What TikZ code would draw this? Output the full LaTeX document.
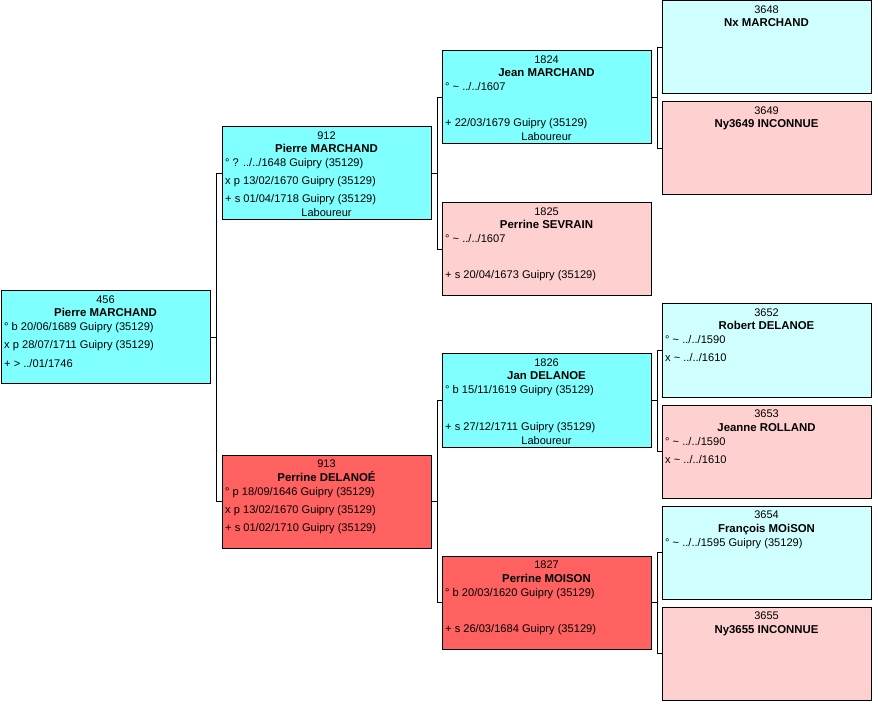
\documentclass[tikz,border=0pt]{standalone}
\usepackage{fontspec}
\setmainfont{Liberation Sans}
\usetikzlibrary{calc}
\definecolor{cyanM}{HTML}{80FFFF}
\definecolor{cyanL}{HTML}{D0FFFF}
\definecolor{pinkL}{HTML}{FFD0D0}
\definecolor{redF}{HTML}{FF6060}
\tikzset{
 pbox/.style={draw=black, line width=1pt, minimum width=209pt, minimum height=93pt, anchor=north west, inner sep=0pt, outer sep=0pt},
 numtxt/.style={font=\fontsize{11}{12}\selectfont, anchor=base, inner sep=0pt},
 nametxt/.style={font=\fontsize{11.4}{13}\selectfont\bfseries, anchor=base, inner sep=0pt},
 evtxt/.style={font=\fontsize{11.1}{12}\selectfont, anchor=base west, inner sep=0pt},
 link/.style={draw=black, line width=1pt},
}
\newcommand\pbx[6]{%
 \node[pbox,fill=#4] (#1) at (#2,#3) {};
 \node[numtxt] at ($(#1.north)+(0,12.5)$) {#5};
 \node[nametxt] at ($(#1.north)+(0,26)$) {#6};}
\newcommand\evA[2]{\node[evtxt] at ($(#1.north west)+(3,40)$) {#2};}
\newcommand\evB[2]{\node[evtxt] at ($(#1.north west)+(3,58)$) {#2};}
\newcommand\evC[2]{\node[evtxt] at ($(#1.north west)+(3,76)$) {#2};}
\newcommand\job[2]{\node[numtxt] at ($(#1.north)+(0,90)$) {#2};}
\newcommand\tld{\textasciitilde}
\begin{document}
\begin{tikzpicture}[x=1pt,y=-1pt]
\useasboundingbox[fill=white] (0,0) rectangle (878,708);
% generation 1
\pbx{n456}{1}{291}{cyanM}{456}{Pierre MARCHAND}
\evA{n456}{° b 20/06/1689 Guipry (35129)}
\evB{n456}{x p 28/07/1711 Guipry (35129)}
\evC{n456}{+ > ../01/1746}
% generation 2
\pbx{n912}{222}{127}{cyanM}{912}{Pierre MARCHAND}
\evA{n912}{° ? ../../1648 Guipry (35129)}
\evB{n912}{x p 13/02/1670 Guipry (35129)}
\evC{n912}{+ s 01/04/1718 Guipry (35129)}
\job{n912}{Laboureur}
\pbx{n913}{222}{455}{redF}{913}{Perrine DELANOÉ}
\evA{n913}{° p 18/09/1646 Guipry (35129)}
\evB{n913}{x p 13/02/1670 Guipry (35129)}
\evC{n913}{+ s 01/02/1710 Guipry (35129)}
% generation 3
\pbx{n1824}{442}{51}{cyanM}{1824}{Jean MARCHAND}
\evA{n1824}{° \tld{} ../../1607}
\evC{n1824}{+ 22/03/1679 Guipry (35129)}
\job{n1824}{Laboureur}
\pbx{n1825}{442}{203}{pinkL}{1825}{Perrine SEVRAIN}
\evA{n1825}{° \tld{} ../../1607}
\evC{n1825}{+ s 20/04/1673 Guipry (35129)}
\pbx{n1826}{442}{354}{cyanM}{1826}{Jan DELANOE}
\evA{n1826}{° b 15/11/1619 Guipry (35129)}
\evC{n1826}{+ s 27/12/1711 Guipry (35129)}
\job{n1826}{Laboureur}
\pbx{n1827}{442}{556}{redF}{1827}{Perrine MOISON}
\evA{n1827}{° b 20/03/1620 Guipry (35129)}
\evC{n1827}{+ s 26/03/1684 Guipry (35129)}
% generation 4
\pbx{n3648}{662}{1}{cyanL}{3648}{Nx MARCHAND}
\pbx{n3649}{662}{102}{pinkL}{3649}{Ny3649 INCONNUE}
\pbx{n3652}{662}{304}{cyanL}{3652}{Robert DELANOE}
\evA{n3652}{° \tld{} ../../1590}
\evB{n3652}{x \tld{} ../../1610}
\pbx{n3653}{662}{405}{pinkL}{3653}{Jeanne ROLLAND}
\evA{n3653}{° \tld{} ../../1590}
\evB{n3653}{x \tld{} ../../1610}
\pbx{n3654}{662}{506}{cyanL}{3654}{François MOiSON}
\evA{n3654}{° \tld{} ../../1595 Guipry (35129)}
\pbx{n3655}{662}{607}{pinkL}{3655}{Ny3655 INCONNUE}
% connectors
\draw[link] (n912.west) -- ++(-6,0) coordinate (j456) |- (n913.west);
\draw[link] (n456.east) -- (n456.east -| j456);
\draw[link] (n1824.west) -- ++(-5,0) coordinate (j912) |- (n1825.west);
\draw[link] (n912.east) -- (n912.east -| j912);
\draw[link] (n1826.west) -- ++(-5,0) coordinate (j913) |- (n1827.west);
\draw[link] (n913.east) -- (n913.east -| j913);
\draw[link] (n3648.west) -- ++(-5,0) coordinate (j1824) |- (n3649.west);
\draw[link] (n1824.east) -- (n1824.east -| j1824);
\draw[link] (n3652.west) -- ++(-5,0) coordinate (j1826) |- (n3653.west);
\draw[link] (n1826.east) -- (n1826.east -| j1826);
\draw[link] (n3654.west) -- ++(-5,0) coordinate (j1827) |- (n3655.west);
\draw[link] (n1827.east) -- (n1827.east -| j1827);
\end{tikzpicture}
\end{document}
